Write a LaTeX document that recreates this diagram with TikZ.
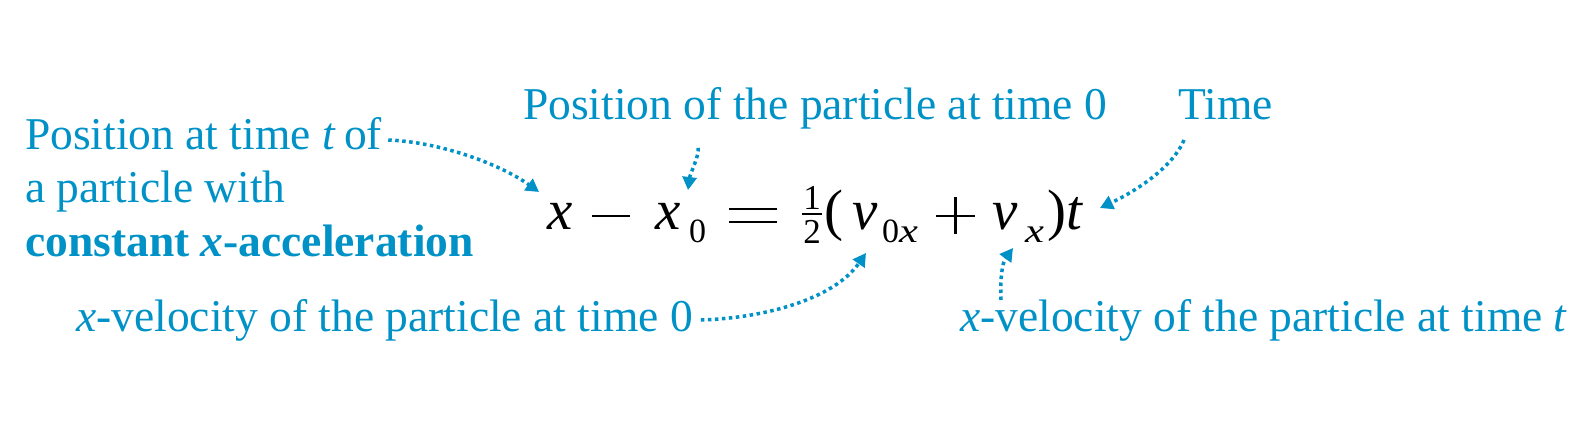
\documentclass[tikz,border=0pt]{standalone}
\usepackage{graphicx}
\usepackage{fontspec}
\setmainfont{Liberation Serif}
\usetikzlibrary{arrows.meta}
\definecolor{myblue}{RGB}{0,146,199}
\newcommand{\sbx}[1]{\raisebox{-13pt}{\fontsize{34}{34}\selectfont #1}}
\newcommand{\sx}{\scalebox{1.25}[1]{\textit{x}}}
\newcommand{\halfr}{\rlap{\rule[15pt]{20pt}{1.6pt}}\makebox[20pt]{\rlap{\raisebox{-14pt}{\fontsize{35}{35}\selectfont 2}}\raisebox{20pt}{\fontsize{35}{35}\selectfont 1}}}
\newcommand{\mminus}{\rule[13pt]{38pt}{2.2pt}}
\newcommand{\meq}{\rlap{\rule[19.5pt]{48pt}{2.2pt}}\rule[7pt]{48pt}{2.2pt}}
\newcommand{\mplus}{\rlap{\rule[13pt]{39pt}{2.2pt}}\hspace{18.4pt}\rule[-4.5pt]{2.2pt}{37pt}\hspace{18.4pt}}
\begin{document}
\begin{tikzpicture}[x=1pt,y=1pt,
  lab/.style={font=\fontsize{45.5}{50}\selectfont, text=myblue, inner sep=0pt, anchor=base west},
  eqn/.style={font=\fontsize{57}{60}\selectfont, text=black, inner sep=0pt, anchor=base west},
  pointer/.style={draw=myblue, line width=3.5pt, dash pattern=on 3.5pt off 3.5pt,
    -{Triangle[length=13pt,width=14pt,fill=myblue]}}]
\useasboundingbox (0,0) rectangle (1592,439);
\node[lab] (l1a) at (25,289) {Position at time \textit{t}\hspace{-3pt} of};
\node[lab] (l1b) at (25,236) {a particle with};
\node[lab] (l1c) at (25,182) {\textbf{constant \textit{x}-acceleration}};
\node[lab] (l2) at (523,319) {Position of the particle at time 0};
\node[lab] (l3) at (1178,319) {Time};
\node[lab] (l4) at (76,107) {\textit{x}-velocity of the particle at time 0};
\node[lab] (l5) at (960,107) {\textit{x}-velocity of the particle at time \textit{t}};
\node[eqn] (eq) at (547,209) {\textit{x}\hspace{19.7pt}\mminus\hspace{25pt}\textit{x}\hspace{8.7pt}\sbx{0}\hspace{23pt}\meq\hspace{25pt}\halfr\hspace{2pt}(\hspace{9pt}\textit{v}\hspace{4.7pt}\sbx{0\sx}\hspace{18pt}\mplus\hspace{17pt}\textit{v}\hspace{7.7pt}\sbx{\sx}\hspace{4pt})\textit{t}};
\coordinate (t1) at (539,247);
\coordinate (t2) at (688,249);
\coordinate (t3) at (1100,231);
\coordinate (t4) at (866,186);
\coordinate (t5) at (1013,191);
\draw[pointer] ([xshift=6pt,yshift=10pt]l1a.base east) .. controls (440,297) and (500,275) .. (t1);
\draw[pointer] ([xshift=-2pt,yshift=-18pt]l2.south west -| 700,0) .. controls (700,285) and (690,265) .. (t2);
\draw[pointer] ([xshift=6pt,yshift=-20pt]l3.base west) .. controls (1172,270) and (1132,246) .. (t3);
\draw[pointer] ([xshift=8pt,yshift=12pt]l4.base east) .. controls (765,121) and (834,140) .. (t4);
\draw[pointer] ([yshift=32pt]l5.base west -| 1001,0) .. controls (1000,159) and (1002,176) .. (t5);
\end{tikzpicture}
\end{document}
